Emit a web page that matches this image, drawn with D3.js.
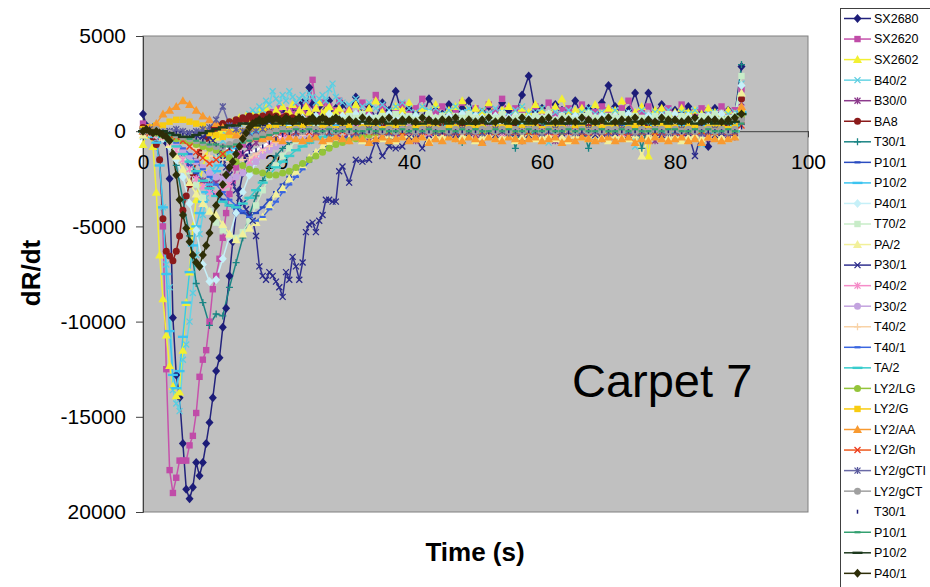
<!DOCTYPE html>
<html><head><meta charset="utf-8">
<script src="https://cdn.jsdelivr.net/npm/d3@7/dist/d3.min.js"></script>
<style>
body{margin:0;background:#fff}
svg{display:block}
text{font-family:"Liberation Sans",Arial,Helvetica,sans-serif}
</style>
</head><body>
<svg id="chart" width="930" height="587"></svg>
<script>
// ---------- DATA ----------
const T_FINE=[0,0.5,1,1.5,2,2.5,3,3.5,4,4.5,5,5.5,6,6.5,7,7.5,8,8.5,9,9.5,10,10.5,11,11.5,12,12.5,13,13.5,14,14.5,15,15.5,16,16.5,17,17.5,18,18.5,19,19.5,20,20.5,21,21.5,22,22.5,23,23.5,24,24.5,25,25.5,26,26.5,27,27.5,28,28.5,29,29.5,30,
31,32,33,34,35,36,37,38,39,40,41,42,43,44,45,46,47,48,49,50,51,52,53,54,55,56,57,58,59,60,61,62,63,64,65,66,67,68,69,70,71,72,73,74,75,76,77,78,79,80,81,82,83,84,85,86,87,88,89,90];
const T_COARSE=[0,1,2,3,4,5,6,7,8,9,10,11,12,13,14,15,16,17,18,19,20,21,22,23,24,25,26,27,28,29,30,31,32,33,34,35,36,37,38,39,40,41,42,43,44,45,46,47,48,49,50,51,52,53,54,55,56,57,58,59,60,61,62,63,64,65,66,67,68,69,70,71,72,73,74,75,76,77,78,79,80,81,82,83,84,85,86,87,88,89,90];

const yTickValues=[5000,0,-5000,-10000,-15000,-20000];
const yTickLabels=["5000","0","-5000","-10000","-15000","20000"];
const xTickValues=[0,20,40,60,80,100];
const xTickLabels=["0","20","40","60","80","100"];

const seriesNames=["SX2680","SX2620","SX2602","B40/2","B30/0","BA8","T30/1","P10/1","P10/2","P40/1","T70/2","PA/2","P30/1","P40/2","P30/2","T40/2","T40/1","TA/2","LY2/LG","LY2/G","LY2/AA","LY2/Gh","LY2/gCTI","LY2/gCT","T30/1","P10/1","P10/2","P40/1"];

// fine-sampled series (T_FINE)
const vSX2680=[900,300,100,200,0,-100,-200,-600,-2500,-9800,
-12800,-14000,-16400,-18800,-19300,-18700,-17400,-18100,-17400,-16400,
-15300,-14000,-12600,-11900,-10300,-9300,-7600,-5800,-4300,-3100,
-2200,-1400,-800,-300,100,400,600,300,700,500,
900,600,1100,800,700,1200,900,600,1500,1000,
2300,1400,900,1300,800,1100,1600,900,1200,700,
1400,
1000,1800,900,1300,700,1500,1100,2100,800,1200,
1000,600,1700,1100,900,1400,800,1200,1600,700,
1000,1300,900,1500,1100,800,1900,2900,1000,1200,
700,1400,1100,900,1600,800,1200,1000,1500,2400,
1300,900,1100,2000,800,2000,1000,1400,600,1100,
900,1300,800,1000,-800,1200,700,1100,900,3400];
const vSX2620=[400,200,-100,-200,-300,-1500,-5000,-12500,-17800,-19000,
-18200,-17300,-17300,-17300,-16500,-16000,-14800,-12900,-12000,-11500,
-10000,-8300,-7600,-6700,-5600,-4300,-3300,-2600,-1900,-1200,
-700,-300,100,400,200,700,500,900,600,1000,
700,1200,800,600,1100,900,1300,700,1000,1400,
900,2700,1200,800,1500,1000,1300,700,1100,1600,
900,
1200,800,1500,1000,1900,1300,700,1100,1400,900,
1200,1700,800,1000,1300,600,1100,1500,900,1200,
800,1400,1000,1700,700,1200,1100,900,1300,1000,
1500,800,1100,1200,900,1400,700,1000,1300,1100,
800,1200,1600,900,1000,1300,700,1100,1200,900,
1400,800,1000,1200,1100,900,1300,1000,1100,2200];
const vSX2602=[-700,-200,0,-800,-3200,-6500,-8800,-10700,-12300,-13400,
-13900,-13700,-11500,-9000,-7400,-5000,-3600,-2700,-1900,-1300,
-800,-500,-300,-100,100,300,200,500,400,700,
500,800,600,900,700,1000,800,1200,900,700,
1100,800,1300,900,1000,1400,800,1100,900,1300,
1000,800,1200,1500,900,1100,1300,800,1000,1200,
900,
1100,1400,900,1200,1600,1000,800,1300,1100,1500,
900,1200,1000,1400,800,1100,1300,1600,900,1200,
1000,1500,800,1100,1300,900,1200,1000,1400,1100,
800,1300,1700,900,1100,1200,1000,1400,900,1200,
1100,1600,800,1000,1300,-1300,1100,1200,900,1000,
1200,1000,1100,900,1200,1000,800,1100,900,1000];
const vB40_2=[-300,100,0,-200,-400,-1500,-4000,-7000,-8200,-13600,
-14300,-14700,-12000,-11200,-10000,-8500,-6500,-5400,-4400,-3500,
-2700,-2000,-1400,-900,-500,-200,100,300,500,400,
700,600,900,1100,900,1300,1100,1600,1400,2100,
1700,1500,1900,1600,2100,1800,1500,1700,1900,1600,
2000,1800,1500,1700,1900,1600,2200,2500,1800,1600,
1500,
1400,1700,1300,1500,1200,1400,1100,1300,1500,1200,
1000,1300,1100,1200,900,1100,1300,1000,1200,800,
1100,900,1200,1000,800,1100,1300,900,1000,1200,
-600,1000,900,1100,800,1000,1200,900,1000,800,
1100,900,1000,-800,1100,800,1000,900,1100,800,
1000,900,1100,-700,900,1000,800,900,1000,2500];
const vBA8=[200,-100,0,-300,-700,-1500,-4600,-6300,-6550,-6800,
-6300,-5500,-4150,-3400,-2800,-2200,-1600,-1100,-700,-400,
-100,100,200,300,400,300,500,400,600,500,
700,600,800,650,750,600,800,700,900,700,
800,600,700,800,600,700,500,600,700,500,
600,500,600,400,500,600,400,500,600,400,
500,
500,400,600,300,500,400,300,500,400,600,
300,400,500,300,400,200,400,300,400,300,
500,300,400,200,300,400,-500,300,500,200,
300,400,300,200,400,300,200,300,400,200,
300,200,400,300,200,300,200,400,300,200,
300,400,200,300,200,300,200,300,200,1700];
const vP10_2=[0,-100,-200,-300,-600,-1800,-4000,-7500,-10500,-12800,
-13500,-12600,-10800,-9000,-7400,-6000,-5000,-4300,-3700,-3200,
-2800,-2400,-2100,-1800,-1500,-1300,-1100,-900,-800,-600,
-500,-400,-300,-200,-100,0,100,200,100,200,
300,200,100,300,200,100,200,300,200,100,
200,300,100,200,300,200,100,200,300,200,
200,
300,200,100,200,300,200,100,300,200,200,
100,300,200,200,100,300,200,100,200,300,
200,100,300,200,200,100,300,200,100,200,
300,200,100,200,300,200,200,100,300,200,
100,200,300,200,100,200,300,200,200,100,
300,200,100,200,300,200,100,200,300,1000];
const vP30_1=[0,100,0,-100,100,0,-100,-200,0,-100,
-200,-100,-300,-200,-100,-300,-200,-400,-300,-200,
-300,-500,-800,-1100,-1500,-1900,-2300,-2700,-3100,-3500,
-3800,-4100,-4400,-4700,-5500,-7100,-7600,-7800,-7400,-7600,
-7900,-8200,-8700,-7400,-7800,-6600,-7100,-7800,-6900,-5300,
-4900,-4800,-5300,-4700,-4400,-3600,-3600,-3700,-3700,-2100,
-1850,
-2700,-1500,-1600,-1500,-500,-1300,-800,-900,-800,-300,
-400,-900,-200,-100,0,-100,-200,0,-100,100,
-100,0,-200,-100,0,-100,100,-200,0,-100,
0,-200,-100,0,100,-100,0,-200,-100,0,
-100,0,-200,100,-100,0,-100,-200,0,-100,
0,-100,-1300,-100,0,-200,-100,0,-100,500];
const vP40_1b=[0,100,0,-100,0,-100,-200,-300,-500,-1200,
-2300,-3600,-4400,-5100,-5800,-6500,-6900,-7100,-6500,-6000,
-5350,-4600,-3900,-3300,-2800,-2300,-1900,-1600,-1200,-800,
-400,-100,200,400,500,600,500,600,700,600,
700,600,500,700,600,500,600,700,600,500,
600,700,500,600,700,600,500,600,700,600,
500,
600,500,700,600,500,600,700,500,600,600,
500,700,600,500,600,600,700,500,600,500,
600,700,500,600,600,500,700,600,500,600,
700,500,600,600,500,700,600,500,600,700,
500,600,600,700,500,600,500,700,600,600,
500,600,700,500,600,600,500,600,700,900];

// coarse-sampled series (T_COARSE)
const vB30_0=[-200,100,-300,-400,-700,-1100,-1500,-1900,-2300,-2600,
-2800,-2700,-2400,-2000,-1600,-1200,-900,-600,-400,-300,
-200,-100,-300,0,-200,-500,-100,0,-300,-100,
-400,-100,0,-200,-500,-100,-200,0,-300,-100,
-200,-500,0,-100,-300,-100,-200,-400,0,-100,
-200,-500,-100,0,-300,-200,-100,-400,0,-200,
-100,-300,-500,-100,0,-200,-100,-300,-100,-400,
0,-200,-100,-300,-100,0,-200,-500,-100,-200,
0,-300,-100,-200,-100,-400,0,-100,-200,-300,
1500];
const vT30_1=[100,-100,0,-200,-500,-1800,-3600,-5500,-8000,-9000,
-10200,-9600,-9700,-8200,-6900,-5600,-4400,-3400,-2600,-1900,
-1300,-900,-600,-400,-200,0,200,400,300,500,
400,300,600,200,400,300,500,-700,400,300,
200,500,400,300,600,200,400,300,-600,400,
500,300,200,400,300,500,-900,400,300,600,
400,200,500,300,400,200,300,-900,400,500,
300,200,400,300,500,-900,400,300,200,400,
300,500,200,300,400,200,300,400,200,300,
3500];
const vP10_1=[0,-100,-200,-400,-700,-1000,-1400,-1800,-2200,-2600,
-3000,-3300,-3600,-3900,-4100,-4300,-4400,-4300,-4000,-3600,
-3200,-2800,-2400,-2000,-1700,-1400,-1100,-900,-700,-500,
-400,-300,-200,100,200,100,200,150,100,200,
150,200,100,200,250,150,200,100,200,150,
200,100,250,150,200,100,200,150,200,100,
200,150,250,100,200,150,200,100,200,150,
200,100,250,150,200,100,200,150,200,100,
200,150,200,100,250,150,200,100,200,150,
700];
const vP40_1=[0,-100,-200,-400,-800,-1500,-2400,-3800,-5200,-7000,
-7900,-7800,-6700,-5500,-4300,-3200,-2300,-1600,-1000,-500,
-100,200,400,500,700,600,800,700,900,600,
800,700,900,600,800,700,600,900,700,800,
600,800,700,900,700,600,800,700,900,600,
800,700,600,800,900,700,800,600,700,800,
700,900,600,800,700,800,600,900,700,800,
600,800,700,900,700,600,800,700,800,600,
900,700,800,600,700,800,700,900,600,800,
2400];
const vT70_2=[0,-100,-200,-300,-600,-1000,-1500,-2100,-2800,-3500,
-4200,-4800,-5200,-5500,-5600,-5300,-4700,-3900,-3100,-2400,
-1800,-1300,-900,-500,-200,100,400,600,500,700,
600,800,700,900,600,700,800,600,900,700,
800,600,700,900,700,800,600,800,700,900,
700,600,800,700,900,600,700,800,600,800,
700,900,600,800,700,600,800,900,700,600,
800,700,900,600,800,700,600,800,700,900,
600,800,700,600,800,700,900,600,700,800,
2900];
const vPA_2=[-200,0,-100,-300,-700,-1300,-2000,-2700,-3300,-3800,
-4200,-4400,-4900,-5400,-5700,-5400,-5100,-4800,-4500,-3900,
-3300,-3000,-2500,-2100,-1800,-1400,-1100,-800,-600,-500,
-400,-400,-300,-500,-200,-300,-400,-200,-500,-300,
-200,-400,-300,-500,-200,-300,-200,-400,-300,-200,
-500,-300,-200,-400,-300,-200,-500,-300,-200,-400,
-300,-200,-400,-300,-500,-200,-300,-400,-200,-300,
-500,-200,-300,-400,-200,-1300,-300,-200,-400,-300,
-200,-500,-300,-200,-400,-300,-200,-300,-400,-200,
2000];
const vP40_2=[0,-100,-200,-300,-600,-1000,-1500,-2000,-2500,-2900,
-3200,-3300,-3100,-2800,-2400,-2000,-1600,-1300,-1000,-700,
-500,-300,-200,-100,0,100,0,100,200,100,
0,100,200,0,100,-100,100,200,0,100,
200,0,100,-100,100,0,200,100,0,100,
100,0,200,100,-100,100,0,100,200,0,
100,0,-100,100,200,0,100,0,100,200,
0,100,-100,100,0,200,100,0,100,0,
200,100,0,100,-100,100,0,200,100,0,
1200];
const vP30_2=[0,0,-100,-200,-400,-700,-1000,-1300,-1600,-1900,
-2200,-2400,-2500,-2500,-2400,-2200,-1900,-1600,-1300,-1000,
-800,-600,-400,-300,-200,-100,0,100,0,100,
200,100,0,100,200,100,0,200,100,100,
0,100,200,100,0,100,200,100,0,100,
200,100,100,0,200,100,0,100,200,100,
0,100,200,100,100,0,200,100,0,100,
200,100,0,100,200,100,0,100,100,200,
0,100,200,100,0,100,200,100,0,100,
800];
const vT40_2=[0,-100,0,-100,-200,-300,-500,-700,-900,-1100,
-1300,-1400,-1500,-1600,-1600,-1500,-1400,-1200,-1000,-800,
-600,-500,-400,-300,-200,-100,-100,0,-100,0,
0,-100,0,100,0,-100,0,0,-100,100,
0,-100,0,0,100,0,-100,0,-100,0,
100,0,-100,0,0,-100,100,0,0,-100,
0,100,0,-100,0,0,-100,0,100,0,
-100,0,0,100,0,-100,0,0,-100,0,
100,0,-100,0,0,100,0,-100,0,0,
600];
const vT40_1=[0,-100,-100,-200,-400,-600,-900,-1200,-1600,-2000,
-2400,-2800,-3200,-3600,-3900,-4200,-4500,-4700,-4500,-4100,
-3700,-3200,-2800,-2400,-2000,-1600,-1300,-1000,-800,-600,
-500,-400,-300,-200,-100,0,100,0,100,0,
100,0,100,50,0,100,0,100,0,100,
0,100,50,0,100,0,100,0,100,50,
0,100,0,100,0,100,50,0,100,0,
100,0,100,0,50,100,0,100,0,100,
0,100,0,100,50,0,100,0,100,0,
600];
const vTA_2=[0,-100,-200,-300,-500,-800,-1200,-1600,-2100,-2600,
-3000,-3400,-3700,-3900,-4000,-3800,-3500,-3100,-2700,-2300,
-1900,-1600,-1300,-1000,-800,-600,-400,-300,-200,-100,
0,100,0,-100,0,100,0,100,-100,0,
100,0,0,100,-100,0,100,0,0,100,
0,-100,0,100,0,0,100,0,-100,0,
100,0,0,100,0,-100,0,100,0,0,
100,0,-100,0,100,0,0,100,0,-100,
0,100,0,0,100,0,-100,0,100,0,
900];
const vLY2_LG=[0,0,-100,-200,-300,-400,-500,-600,-700,-800,
-900,-1000,-1200,-1400,-1600,-1800,-2000,-2100,-2200,-2300,
-2300,-2200,-2100,-1900,-1700,-1500,-1300,-1100,-900,-700,
-600,-500,-400,-300,-200,-100,0,0,100,0,
100,0,100,100,0,100,0,100,100,0,
100,0,100,0,100,100,0,100,0,100,
0,100,100,0,100,0,100,0,100,100,
0,100,0,100,100,0,100,0,100,0,
100,100,0,100,0,100,0,100,100,0,
700];
const vLY2_G=[100,200,300,300,500,600,600,500,400,300,
-100,-200,-300,-200,-100,0,100,200,100,200,
300,200,100,200,300,200,100,300,200,100,
200,300,100,200,300,200,100,200,300,200,
100,200,300,200,200,100,300,200,100,200,
300,200,100,200,200,300,100,200,300,200,
100,200,300,200,100,200,300,100,200,200,
300,200,100,200,300,200,100,200,300,200,
200,100,300,200,100,200,300,200,100,200,
1000];
const vLY2_AA=[0,200,400,900,1100,1300,1600,1400,1100,800,
600,400,200,0,-200,-300,-400,-300,-400,-300,
-400,-500,-300,-400,-500,-400,-300,-500,-400,-300,
-400,-500,-300,-400,-600,-400,-300,-500,-400,-300,
-500,-400,-300,-600,-400,-500,-300,-400,-500,-300,
-400,-600,-300,-400,-500,-300,-400,-500,-400,-300,
-500,-400,-300,-600,-400,-500,-300,-400,-500,-400,
-300,-500,-400,-300,-600,-400,-500,-300,-400,-500,
-400,-300,-500,-400,-600,-300,-400,-500,-400,-300,
1300];
const vLY2_Gh=[0,-100,0,-100,-200,-300,-500,-800,-1100,-1400,
-1700,-1500,-1200,-900,-700,-500,-400,-300,-200,-100,
-50,0,-50,-50,0,-50,-50,0,-50,-50,
0,-50,-50,0,-50,0,-50,-50,0,-50,
-50,0,-50,-50,0,-50,0,-50,-50,0,
-50,-50,0,-50,0,-50,-50,0,-50,-50,
0,-50,-50,0,-50,0,-50,-50,0,-50,
-50,0,-50,-50,0,-50,0,-50,-50,0,
-50,-50,0,-50,0,-50,-50,0,-50,-50,
300];
const vLY2_gCTI=[0,100,0,-100,0,100,0,-100,0,100,
200,600,1300,300,100,0,-100,0,100,0,
0,100,0,-100,0,100,0,0,-100,0,
100,0,-100,0,100,0,0,-100,0,100,
0,-100,0,100,0,0,-100,0,100,0,
0,-100,0,100,0,-100,0,0,100,0,
-100,0,100,0,0,-100,0,100,0,0,
-100,0,100,0,-100,0,0,100,0,-100,
0,100,0,0,-100,0,100,0,-100,0,
500];
const vLY2_gCT=[0,0,100,0,-100,-200,-300,-400,-500,-600,
-700,-800,-800,-700,-600,-500,-400,-300,-200,-100,
0,100,0,100,0,100,100,0,100,0,
100,0,100,100,0,100,0,100,0,100,
100,0,100,0,100,100,0,100,0,100,
0,100,100,0,100,0,100,0,100,100,
0,100,0,100,100,0,100,0,100,0,
100,100,0,100,0,100,0,100,100,0,
100,0,100,0,100,100,0,100,0,100,
600];
const vT30_1b=[0,0,-100,0,-100,-100,-200,-300,-400,-500,
-600,-700,-800,-900,-1000,-1100,-1100,-1000,-800,-600,
-400,-200,-100,0,0,0,0,0,0,0,
0,0,0,-50,0,0,0,0,0,0,
0,0,0,0,0,-50,0,0,0,0,
0,0,-50,0,0,0,0,0,0,0,
0,0,0,0,-50,0,0,0,0,0,
0,0,0,0,0,0,-50,0,0,0,
0,-50,0,0,0,0,0,0,0,0,
200];
const vP10_1b=[0,0,-100,-100,-200,-200,-300,-400,-500,-600,
-700,-700,-800,-800,-700,-600,-500,-400,-300,-200,
-100,0,0,100,0,100,0,0,100,0,
0,100,0,0,100,0,100,0,0,100,
0,100,0,100,0,0,100,0,100,0,
100,0,0,100,0,100,0,0,100,0,
0,100,0,0,100,0,100,0,0,100,
0,0,100,0,100,0,0,100,0,100,
100,0,0,100,0,100,0,0,100,0,
400];
const vP10_2b=[0,0,-100,0,-100,-200,-300,-300,-200,-100,
0,100,200,300,300,400,400,300,400,500,
400,500,400,400,500,400,500,400,400,500,
400,500,400,500,400,400,500,400,500,400,
500,400,400,500,400,500,400,500,400,400,
400,500,400,500,500,400,400,500,400,500,
500,400,500,400,400,500,400,500,400,500,
400,500,400,400,500,400,500,400,500,400,
500,400,500,400,400,500,400,500,400,500,
900];

const seriesValues=[vSX2680,vSX2620,vSX2602,vB40_2,vB30_0,vBA8,vT30_1,vP10_1,vP10_2,vP40_1,vT70_2,vPA_2,vP30_1,vP40_2,vP30_2,vT40_2,vT40_1,vTA_2,vLY2_LG,vLY2_G,vLY2_AA,vLY2_Gh,vLY2_gCTI,vLY2_gCT,vT30_1b,vP10_1b,vP10_2b,vP40_1b];
const seriesTimes=[T_FINE,T_FINE,T_FINE,T_FINE,T_COARSE,T_FINE,T_COARSE,T_COARSE,T_FINE,T_COARSE,T_COARSE,T_COARSE,T_FINE,T_COARSE,T_COARSE,T_COARSE,T_COARSE,T_COARSE,T_COARSE,T_COARSE,T_COARSE,T_COARSE,T_COARSE,T_COARSE,T_COARSE,T_COARSE,T_COARSE,T_FINE];

// ---------- STYLES ----------
const seriesStyles=[
 {line:"#22227c",mark:"#1c1c78",shape:"diamond",w:1.5},
 {line:"#c652ab",mark:"#c04ca8",shape:"square",w:1.5},
 {line:"#f2f032",mark:"#f2f032",shape:"triangle",w:1.5},
 {line:"#66d4e4",mark:"#5ccde0",shape:"x",w:1.5},
 {line:"#8c3a8c",mark:"#8c3a8c",shape:"star",w:1.5},
 {line:"#8b1a1a",mark:"#8b1a1a",shape:"circle",w:1.5},
 {line:"#1a8484",mark:"#1a8484",shape:"plus",w:1.5},
 {line:"#2a4cc0",mark:"#2a4cc0",shape:"dash",w:1.5},
 {line:"#3cc4f0",mark:"#3cc4f0",shape:"longdash",w:1.5},
 {line:"#c6f0f8",mark:"#c6f0f8",shape:"diamond",w:1.5},
 {line:"#c8ecc8",mark:"#c8ecc8",shape:"square",w:1.5},
 {line:"#f2f09a",mark:"#f2f09a",shape:"triangle",w:1.5},
 {line:"#30308f",mark:"#2a2a8a",shape:"x",w:1.5},
 {line:"#f58cc8",mark:"#f58cc8",shape:"star",w:1.5},
 {line:"#c3a3df",mark:"#c3a3df",shape:"circle",w:1.5},
 {line:"#f8d2a6",mark:"#f8d2a6",shape:"plus",w:1.5},
 {line:"#3a66e0",mark:"#3a66e0",shape:"dash",w:1.5},
 {line:"#38cccc",mark:"#38cccc",shape:"longdash",w:1.5},
 {line:"#94c43a",mark:"#94c43a",shape:"circle",w:1.5},
 {line:"#f8cc10",mark:"#f8cc10",shape:"square",w:1.5},
 {line:"#f89a30",mark:"#f89a30",shape:"triangle",w:1.5},
 {line:"#ee5a1e",mark:"#ee3a1e",shape:"x",w:1.5},
 {line:"#6a6aa6",mark:"#5a5a9e",shape:"star",w:1.5},
 {line:"#a0a0a0",mark:"#a0a0a0",shape:"circle",w:1.5},
 {line:"#ffffff",mark:"#1c1c78",shape:"tick",w:2.5},
 {line:"#33a070",mark:"#33a070",shape:"dash",w:1.5},
 {line:"#1e3a1e",mark:"#1e3a1e",shape:"longdash",w:1.5},
 {line:"#2e2e08",mark:"#2e2e08",shape:"diamond",w:1.5}
];

// ---------- CHART ----------
const svg=d3.select("#chart");
const plot={l:143,t:36,r:808,b:512};
const x=d3.scaleLinear().domain([0,100]).range([plot.l,plot.r]);
const y=d3.scaleLinear().domain([-20000,5000]).range([plot.b,plot.t]);

svg.append("rect").attr("x",0).attr("y",0).attr("width",930).attr("height",587).attr("fill","#fff");
svg.append("rect").attr("x",plot.l).attr("y",plot.t).attr("width",plot.r-plot.l).attr("height",plot.b-plot.t)
  .attr("fill","#c0c0c0").attr("stroke","#808080").attr("stroke-width",1);

// y axis
const yAxis=d3.axisLeft(y).tickValues(yTickValues).tickSize(7).tickPadding(10)
  .tickFormat((d,i)=>yTickLabels[i]);
const gy=svg.append("g").attr("transform",`translate(${plot.l},0)`).call(yAxis);
gy.select(".domain").attr("stroke","#404040");
gy.selectAll(".tick line").attr("stroke","#404040");
gy.selectAll(".tick text").attr("font-size",21).attr("fill","#000")
  .attr("font-family",'"Liberation Sans",Arial,sans-serif');

// x axis at y=0
const xAxis=d3.axisBottom(x).tickValues(xTickValues).tickSize(6).tickPadding(17)
  .tickFormat((d,i)=>xTickLabels[i]);
const gx=svg.append("g").attr("transform",`translate(0,${y(0)})`).call(xAxis);
gx.select(".domain").attr("stroke","#404040");
gx.selectAll(".tick line").attr("stroke","#404040");
gx.selectAll(".tick text").attr("font-size",21).attr("fill","#000")
  .attr("font-family",'"Liberation Sans",Arial,sans-serif');

// lines then markers (Excel style)
const gLines=svg.append("g");
const gMarks=svg.append("g");
const line=d3.line().x(d=>x(d[0])).y(d=>y(d[1]));

function pts(i){
  const t=seriesTimes[i], v=seriesValues[i];
  const n=Math.min(t.length,v.length);
  const out=[];
  for(let k=0;k<n;k++) out.push([t[k],v[k]]);
  return out;
}

function drawMarker(g,shape,cx,cy,col){
  const tr=`translate(${cx},${cy})`;
  switch(shape){
    case "diamond": g.append("path").attr("d","M0,-4.5L4,0L0,4.5L-4,0Z").attr("fill",col).attr("transform",tr); break;
    case "square": g.append("rect").attr("x",-3.2).attr("y",-3.2).attr("width",6.4).attr("height",6.4).attr("fill",col).attr("transform",tr); break;
    case "triangle": g.append("path").attr("d","M0,-4.5L4.5,3.5L-4.5,3.5Z").attr("fill",col).attr("transform",tr); break;
    case "x": g.append("path").attr("d","M-3,-3L3,3M-3,3L3,-3").attr("stroke",col).attr("stroke-width",1.3).attr("fill","none").attr("transform",tr); break;
    case "star": g.append("path").attr("d","M-3,-3L3,3M-3,3L3,-3M0,-3.5V3.5").attr("stroke",col).attr("stroke-width",1.3).attr("fill","none").attr("transform",tr); break;
    case "circle": g.append("circle").attr("r",3.5).attr("fill",col).attr("transform",tr); break;
    case "plus": g.append("path").attr("d","M-3.5,0H3.5M0,-3.5V3.5").attr("stroke",col).attr("stroke-width",1.3).attr("fill","none").attr("transform",tr); break;
    case "dash": g.append("path").attr("d","M-3,0H3").attr("stroke",col).attr("stroke-width",2.2).attr("fill","none").attr("transform",tr); break;
    case "longdash": g.append("path").attr("d","M-5,0H5").attr("stroke",col).attr("stroke-width",2.4).attr("fill","none").attr("transform",tr); break;
    case "tick": g.append("path").attr("d","M0,-2V2").attr("stroke",col).attr("stroke-width",1.5).attr("fill","none").attr("transform",tr); break;
  }
}

seriesNames.forEach((name,i)=>{
  const st=seriesStyles[i];
  gLines.append("path").datum(pts(i)).attr("d",line).attr("fill","none")
    .attr("stroke",st.line).attr("stroke-width",st.w).attr("stroke-linejoin","round");
});
seriesNames.forEach((name,i)=>{
  const st=seriesStyles[i];
  const gm=gMarks.append("g");
  pts(i).forEach(p=>drawMarker(gm,st.shape,x(p[0]),y(p[1]),st.mark));
});

// axis titles
svg.append("text").attr("x",475).attr("y",561).attr("text-anchor","middle")
  .attr("font-size",26).attr("font-weight","bold").text("Time (s)");
svg.append("text").attr("transform","translate(40,273) rotate(-90)").attr("text-anchor","middle")
  .attr("font-size",26).attr("font-weight","bold").text("dR/dt");

// annotation
svg.append("text").attr("x",572).attr("y",397).attr("font-size",47).attr("fill","#000").text("Carpet 7");

// legend
const lg=svg.append("g");
lg.append("rect").attr("x",840.5).attr("y",8.5).attr("width",120).attr("height",620)
  .attr("fill","#fff").attr("stroke","#404040").attr("stroke-width",1);
seriesNames.forEach((name,i)=>{
  const st=seriesStyles[i];
  const ly=18.5+i*20.55;
  lg.append("line").attr("x1",844).attr("x2",871).attr("y1",ly).attr("y2",ly)
    .attr("stroke",st.line).attr("stroke-width",1.5);
  drawMarker(lg,st.shape,857.5,ly,st.mark);
  lg.append("text").attr("x",874).attr("y",ly).attr("dy","0.35em").attr("font-size",12.5)
    .attr("fill","#000").text(name);
});
</script>
</body></html>
